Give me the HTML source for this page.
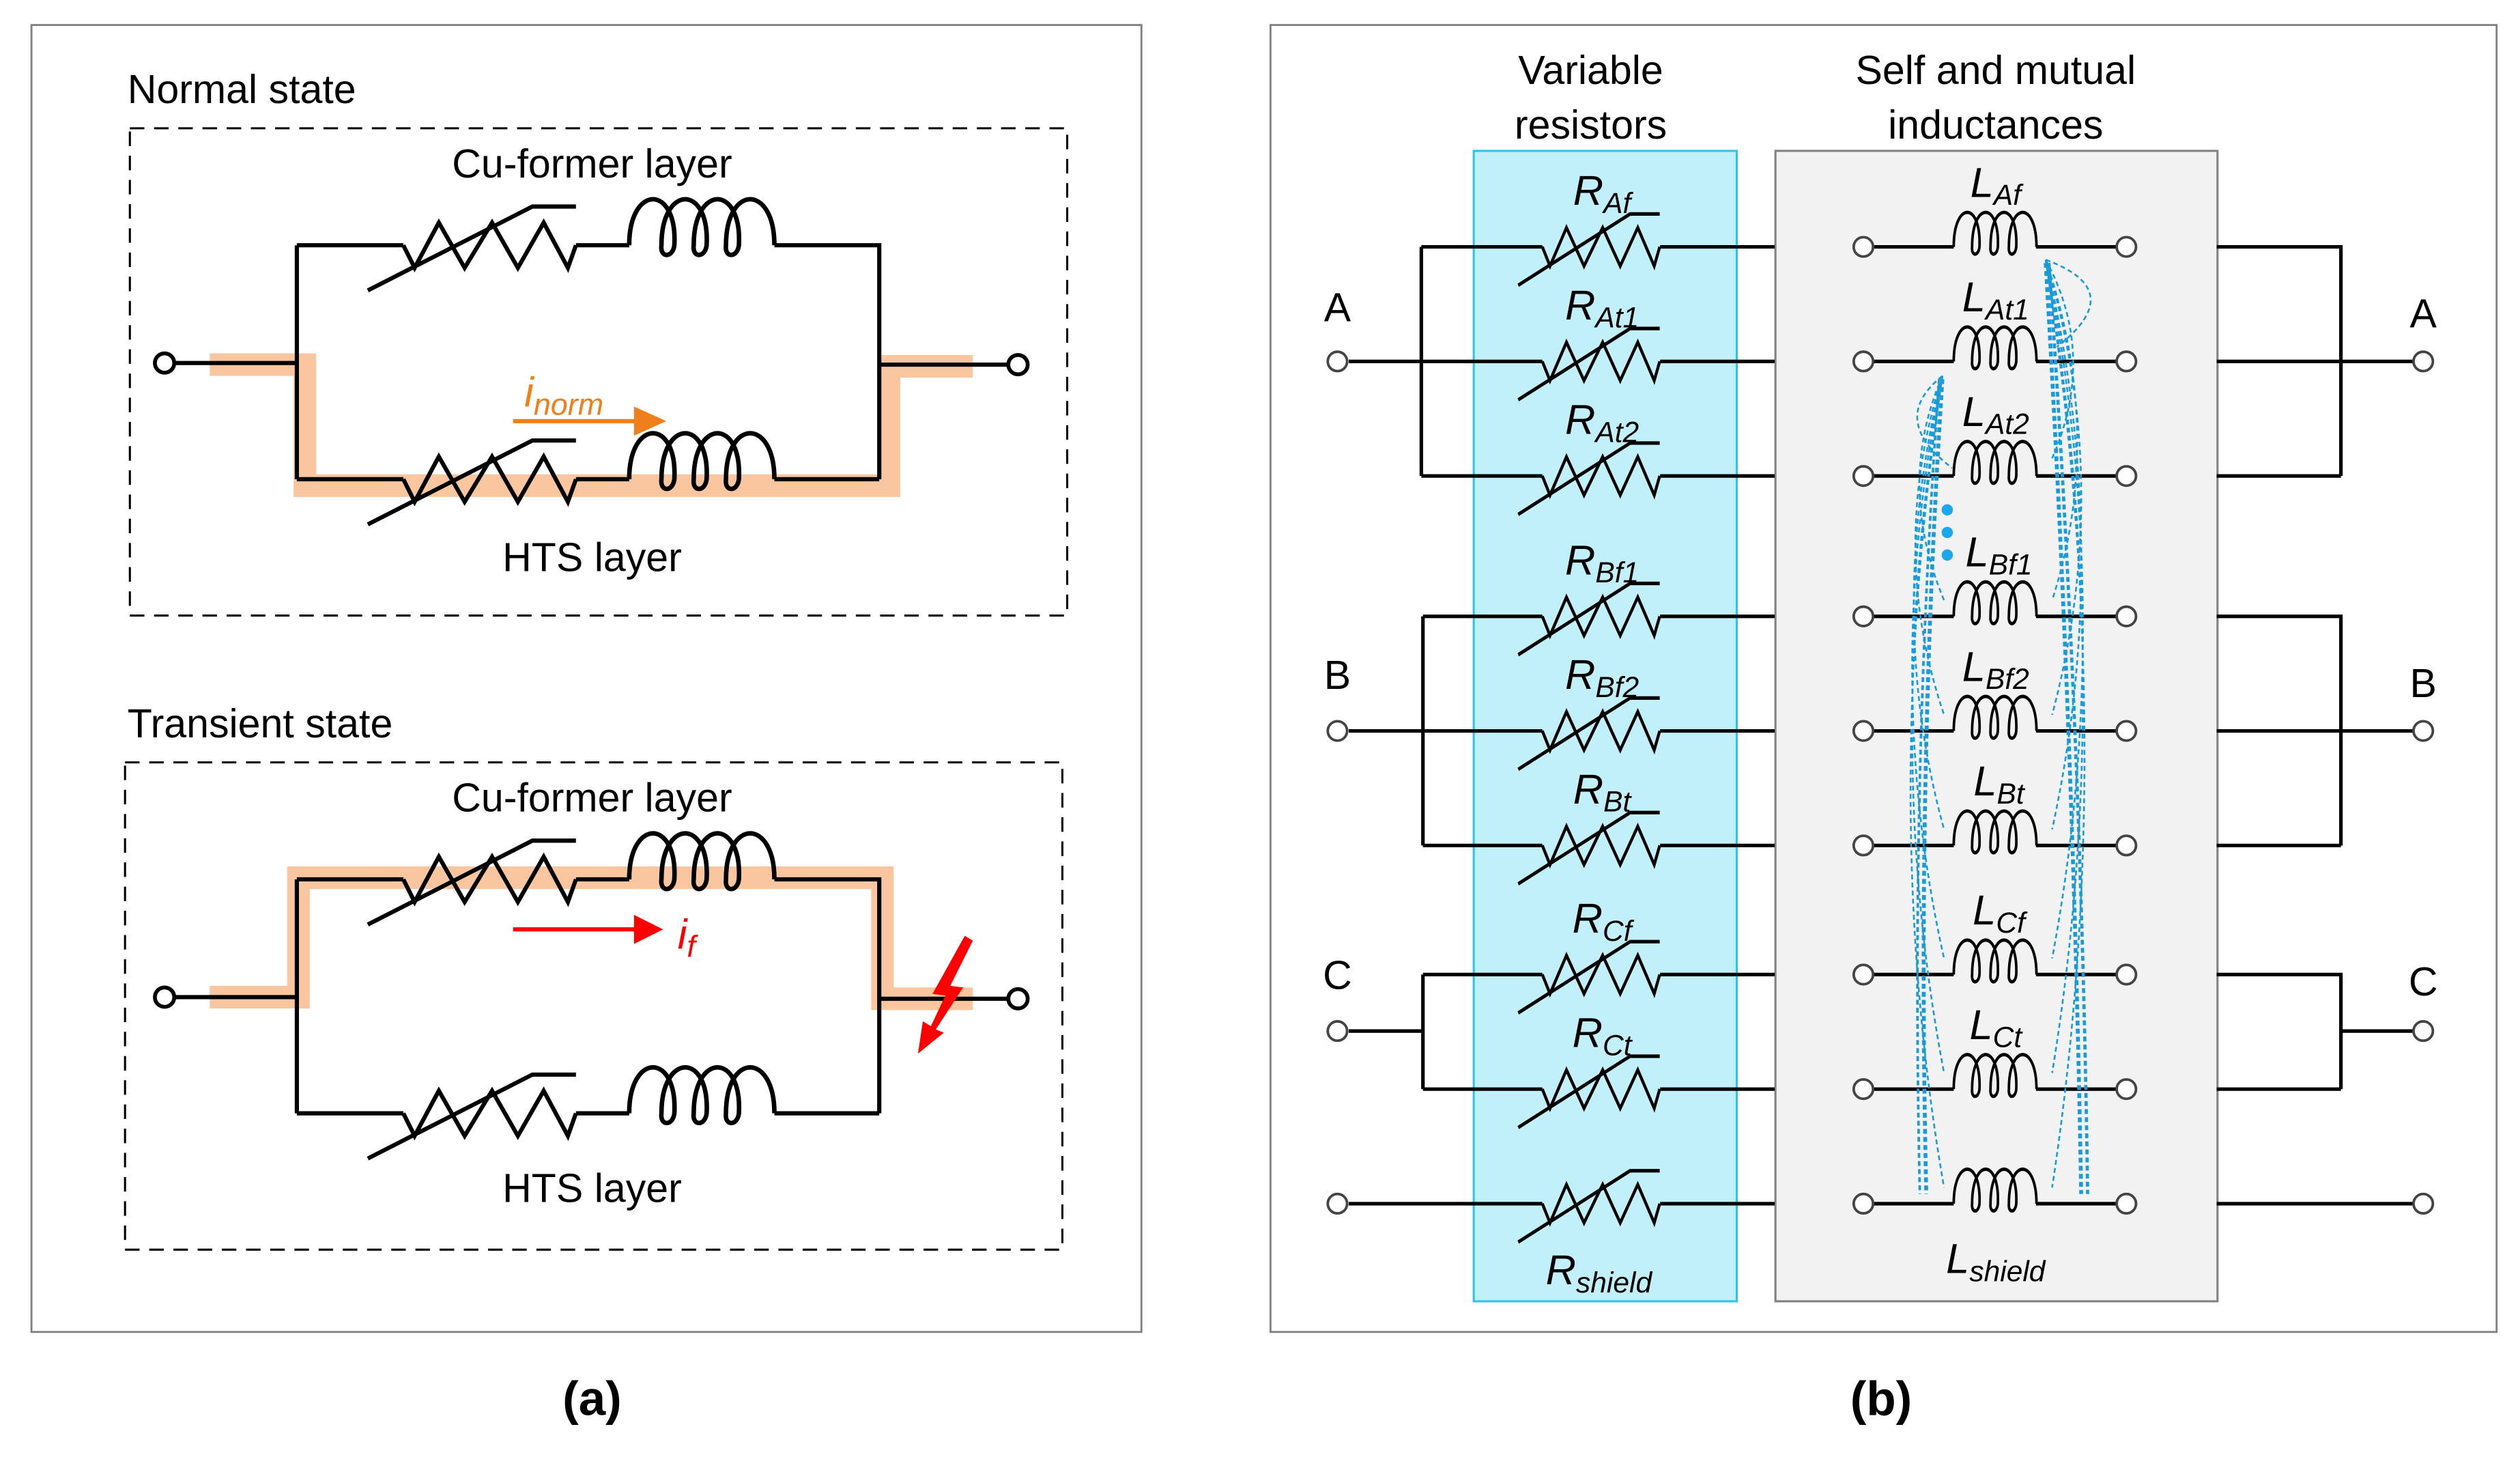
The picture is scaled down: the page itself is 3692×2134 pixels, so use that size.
<!DOCTYPE html>
<html><head><meta charset="utf-8"><style>
html,body{margin:0;padding:0;background:#fff;}
svg{display:block;}
text{font-family:"Liberation Sans",Arial,sans-serif;}
</style></head><body>
<svg width="3692" height="2134" viewBox="0 0 1562 903" preserveAspectRatio="none" xmlns="http://www.w3.org/2000/svg">
<defs>
<g id="res" fill="none" stroke="#000" stroke-width="2.6">
<polyline points="0,0 7,14 22,-14 38,14 55,-14 71,14 87,-14 102,14 107,0"/>
<polyline points="-22,28 80,-24 107,-24"/>
</g>
<path id="ind" fill="none" stroke="#000" stroke-width="2.8" d="M0,0 C0,-38 30,-38 28,0 C27,8 19,8 20,0 C20,-38 50,-38 48,0 C47,8 39,8 40,0 C40,-38 70,-38 68,0 C67,8 59,8 60,0 C60,-38 90,-38 90,0"/>
</defs>

<rect x="19.5" y="15.5" width="688" height="810" fill="none" stroke="#808080" stroke-width="1.2"/>
<rect x="787.5" y="15.5" width="760" height="810" fill="none" stroke="#808080" stroke-width="1.2"/>
<text x="367" y="877" font-size="30" font-weight="bold" text-anchor="middle">(a)</text>
<text x="1166" y="877" font-size="30" font-weight="bold" text-anchor="middle">(b)</text>

<text x="79" y="64" font-size="25">Normal state</text>
<rect x="80.5" y="79.5" width="581" height="302" fill="none" stroke="#000" stroke-width="1.3" stroke-dasharray="9,6"/>
<text x="367" y="110" font-size="25" text-anchor="middle">Cu-former layer</text>
<text x="367" y="354" font-size="25" text-anchor="middle">HTS layer</text>
<path d="M130,226 H189 V301 H551 V227 H603" fill="none" stroke="#fac6a0" stroke-width="14"/>
<g fill="none" stroke="#000" stroke-width="2.6">
<path d="M108,225 H184 M184,152 V297 M184,152 H250 M357,152 H390 M480,152 H545 V297 M184,297 H250 M357,297 H390 M480,297 H545 M545,226 H625"/>
</g>
<use href="#res" x="250" y="152"/><use href="#ind" x="390" y="152"/>
<use href="#res" x="250" y="297"/><use href="#ind" x="390" y="297"/>
<circle cx="102" cy="225" r="6" fill="#fff" stroke="#000" stroke-width="2.4"/>
<circle cx="631" cy="226" r="6" fill="#fff" stroke="#000" stroke-width="2.4"/>
<line x1="318" y1="261" x2="395" y2="261" stroke="#f07f1b" stroke-width="2.6"/>
<polygon points="393,252 413,261 393,270" fill="#f07f1b"/>
<text x="325" y="252" font-size="26" font-style="italic" fill="#f07f1b">i<tspan font-size="19" dy="5">norm</tspan></text>

<text x="79" y="457" font-size="25">Transient state</text>
<rect x="77.5" y="472.5" width="581" height="302" fill="none" stroke="#000" stroke-width="1.3" stroke-dasharray="9,6"/>
<text x="367" y="503" font-size="25" text-anchor="middle">Cu-former layer</text>
<text x="367" y="745" font-size="25" text-anchor="middle">HTS layer</text>
<path d="M130,618 H185 V544 H547 V619 H603" fill="none" stroke="#fac6a0" stroke-width="14"/>
<g fill="none" stroke="#000" stroke-width="2.6">
<path d="M108,618 H184 M184,545 V690 M184,545 H250 M357,545 H390 M480,545 H545 V690 M184,690 H250 M357,690 H390 M480,690 H545 M545,619 H625"/>
</g>
<use href="#res" x="250" y="545"/><use href="#ind" x="390" y="545"/>
<use href="#res" x="250" y="690"/><use href="#ind" x="390" y="690"/>
<circle cx="102" cy="618" r="6" fill="#fff" stroke="#000" stroke-width="2.4"/>
<circle cx="631" cy="619" r="6" fill="#fff" stroke="#000" stroke-width="2.4"/>
<line x1="318" y1="576" x2="395" y2="576" stroke="#f00" stroke-width="2.6"/>
<polygon points="393,567 411,576 393,585" fill="#f00"/>
<text x="420" y="588" font-size="26" font-style="italic" fill="#f00">i<tspan font-size="19" dy="5">f</tspan></text>
<polygon points="598,580 603,583 589,611 597,612 580,638 585,640 569,653 572,633 577,636 586,617 578,616" fill="#f00"/>

<rect x="913.5" y="93.5" width="163" height="713" fill="#c1f0fb" stroke="#2ec4ea" stroke-width="1.3"/>
<rect x="1100.5" y="93.5" width="274" height="713" fill="#f2f2f2" stroke="#808080" stroke-width="1.3"/>
<text x="986" y="52" font-size="25" text-anchor="middle">Variable</text>
<text x="986" y="86" font-size="25" text-anchor="middle">resistors</text>
<text x="1237" y="52" font-size="25" text-anchor="middle">Self and mutual</text>
<text x="1237" y="86" font-size="25" text-anchor="middle">inductances</text>

<g fill="none" stroke="#000" stroke-width="2.2">
<path d="M881,153 V295 M881,153 H956 M881,295 H956 M836,224 H956"/>
<path d="M882,382 V524 M882,382 H956 M882,524 H956 M836,453 H956"/>
<path d="M882,604 V675 M882,604 H956 M882,675 H956 M836,639 H882"/>
<path d="M836,746 H956"/>
<path d="M1029,153 H1100 M1029,224 H1100 M1029,295 H1100 M1029,382 H1100 M1029,453 H1100 M1029,524 H1100 M1029,604 H1100 M1029,675 H1100 M1029,746 H1100"/>
<path d="M1374,153 H1451 V295 M1374,295 H1451 M1374,224 H1496"/>
<path d="M1374,382 H1451 V524 M1374,524 H1451 M1374,453 H1496"/>
<path d="M1374,604 H1451 V675 M1374,675 H1451 M1451,639 H1496"/>
<path d="M1374,746 H1496"/>
</g>

<g transform="translate(956,153) scale(0.68,0.85)"><use href="#res"/></g>
<g transform="translate(956,224) scale(0.68,0.85)"><use href="#res"/></g>
<g transform="translate(956,295) scale(0.68,0.85)"><use href="#res"/></g>
<g transform="translate(956,382) scale(0.68,0.85)"><use href="#res"/></g>
<g transform="translate(956,453) scale(0.68,0.85)"><use href="#res"/></g>
<g transform="translate(956,524) scale(0.68,0.85)"><use href="#res"/></g>
<g transform="translate(956,604) scale(0.68,0.85)"><use href="#res"/></g>
<g transform="translate(956,675) scale(0.68,0.85)"><use href="#res"/></g>
<g transform="translate(956,746) scale(0.68,0.85)"><use href="#res"/></g>

<g font-size="26" font-style="italic" text-anchor="middle">
<text x="993" y="127">R<tspan font-size="18" dy="5">Af</tspan></text>
<text x="993" y="198">R<tspan font-size="18" dy="5">At1</tspan></text>
<text x="993" y="269">R<tspan font-size="18" dy="5">At2</tspan></text>
<text x="993" y="356">R<tspan font-size="18" dy="5">Bf1</tspan></text>
<text x="993" y="427">R<tspan font-size="18" dy="5">Bf2</tspan></text>
<text x="993" y="498">R<tspan font-size="18" dy="5">Bt</tspan></text>
<text x="993" y="578">R<tspan font-size="18" dy="5">Cf</tspan></text>
<text x="993" y="649">R<tspan font-size="18" dy="5">Ct</tspan></text>
<text x="991" y="796">R<tspan font-size="18" dy="5">shield</tspan></text>
<text x="1237" y="122">L<tspan font-size="18" dy="5">Af</tspan></text>
<text x="1237" y="193">L<tspan font-size="18" dy="5">At1</tspan></text>
<text x="1237" y="264">L<tspan font-size="18" dy="5">At2</tspan></text>
<text x="1239" y="351">L<tspan font-size="18" dy="5">Bf1</tspan></text>
<text x="1237" y="422">L<tspan font-size="18" dy="5">Bf2</tspan></text>
<text x="1239" y="493">L<tspan font-size="18" dy="5">Bt</tspan></text>
<text x="1239" y="573">L<tspan font-size="18" dy="5">Cf</tspan></text>
<text x="1237" y="644">L<tspan font-size="18" dy="5">Ct</tspan></text>
<text x="1237" y="789">L<tspan font-size="18" dy="5">shield</tspan></text>
</g>

<g font-size="25" text-anchor="middle">
<text x="829" y="199">A</text><text x="829" y="427">B</text><text x="829" y="613">C</text>
<text x="1502" y="203">A</text><text x="1502" y="432">B</text><text x="1502" y="617">C</text>
</g>

<g fill="none" stroke="#000" stroke-width="2.2">
<path d="M1161,153 H1211 M1262,153 H1312 M1161,224 H1211 M1262,224 H1312 M1161,295 H1211 M1262,295 H1312 M1161,382 H1211 M1262,382 H1312 M1161,453 H1211 M1262,453 H1312 M1161,524 H1211 M1262,524 H1312 M1161,604 H1211 M1262,604 H1312 M1161,675 H1211 M1262,675 H1312 M1161,746 H1211 M1262,746 H1312"/>
</g>
<g transform="translate(1211,153) scale(0.57,0.75)"><use href="#ind"/></g>
<g transform="translate(1211,224) scale(0.57,0.75)"><use href="#ind"/></g>
<g transform="translate(1211,295) scale(0.57,0.75)"><use href="#ind"/></g>
<g transform="translate(1211,382) scale(0.57,0.75)"><use href="#ind"/></g>
<g transform="translate(1211,453) scale(0.57,0.75)"><use href="#ind"/></g>
<g transform="translate(1211,524) scale(0.57,0.75)"><use href="#ind"/></g>
<g transform="translate(1211,604) scale(0.57,0.75)"><use href="#ind"/></g>
<g transform="translate(1211,675) scale(0.57,0.75)"><use href="#ind"/></g>
<g transform="translate(1211,746) scale(0.57,0.75)"><use href="#ind"/></g>

<g fill="none" stroke="#1a9ad8" stroke-width="1.1" stroke-dasharray="3,2">
<path d="M1268,161 Q1320,180 1275,215"/>
<path d="M1268,161 Q1300,220 1272,284"/>
<path d="M1268,161 Q1305,270 1272,372"/>
<path d="M1268,161 Q1310,300 1272,443"/>
<path d="M1268,161 Q1310,340 1272,514"/>
<path d="M1268,161 Q1312,380 1272,594"/>
<path d="M1268,161 Q1312,420 1272,665"/>
<path d="M1268,161 Q1314,460 1272,736"/>
<path d="M1268,163 Q1285,450 1290,740" stroke-width="2.4"/>
<path d="M1270,163 Q1290,450 1294,740" stroke-width="2"/>
<path d="M1204,233 Q1170,260 1210,290"/>
<path d="M1204,233 Q1175,300 1205,372"/>
<path d="M1204,233 Q1170,340 1205,443"/>
<path d="M1204,233 Q1168,380 1205,514"/>
<path d="M1204,233 Q1166,420 1205,594"/>
<path d="M1204,233 Q1166,460 1205,665"/>
<path d="M1204,233 Q1164,500 1205,736"/>
<path d="M1204,235 Q1188,480 1194,740" stroke-width="2.4"/>
<path d="M1202,235 Q1184,480 1190,740" stroke-width="1.6"/>
</g>
<g fill="#1aa8ec"><circle cx="1207" cy="316" r="3.5"/><circle cx="1207" cy="330" r="3.5"/><circle cx="1207" cy="344" r="3.5"/></g>

<g fill="#fff" stroke="#444" stroke-width="1.6">
<circle cx="829" cy="224" r="6"/><circle cx="829" cy="453" r="6"/><circle cx="829" cy="639" r="6"/><circle cx="829" cy="746" r="6"/>
<circle cx="1502" cy="224" r="6"/><circle cx="1502" cy="453" r="6"/><circle cx="1502" cy="639" r="6"/><circle cx="1502" cy="746" r="6"/>
<circle cx="1155" cy="153" r="6"/><circle cx="1318" cy="153" r="6"/>
<circle cx="1155" cy="224" r="6"/><circle cx="1318" cy="224" r="6"/>
<circle cx="1155" cy="295" r="6"/><circle cx="1318" cy="295" r="6"/>
<circle cx="1155" cy="382" r="6"/><circle cx="1318" cy="382" r="6"/>
<circle cx="1155" cy="453" r="6"/><circle cx="1318" cy="453" r="6"/>
<circle cx="1155" cy="524" r="6"/><circle cx="1318" cy="524" r="6"/>
<circle cx="1155" cy="604" r="6"/><circle cx="1318" cy="604" r="6"/>
<circle cx="1155" cy="675" r="6"/><circle cx="1318" cy="675" r="6"/>
<circle cx="1155" cy="746" r="6"/><circle cx="1318" cy="746" r="6"/>
</g>
</svg>
</body></html>
